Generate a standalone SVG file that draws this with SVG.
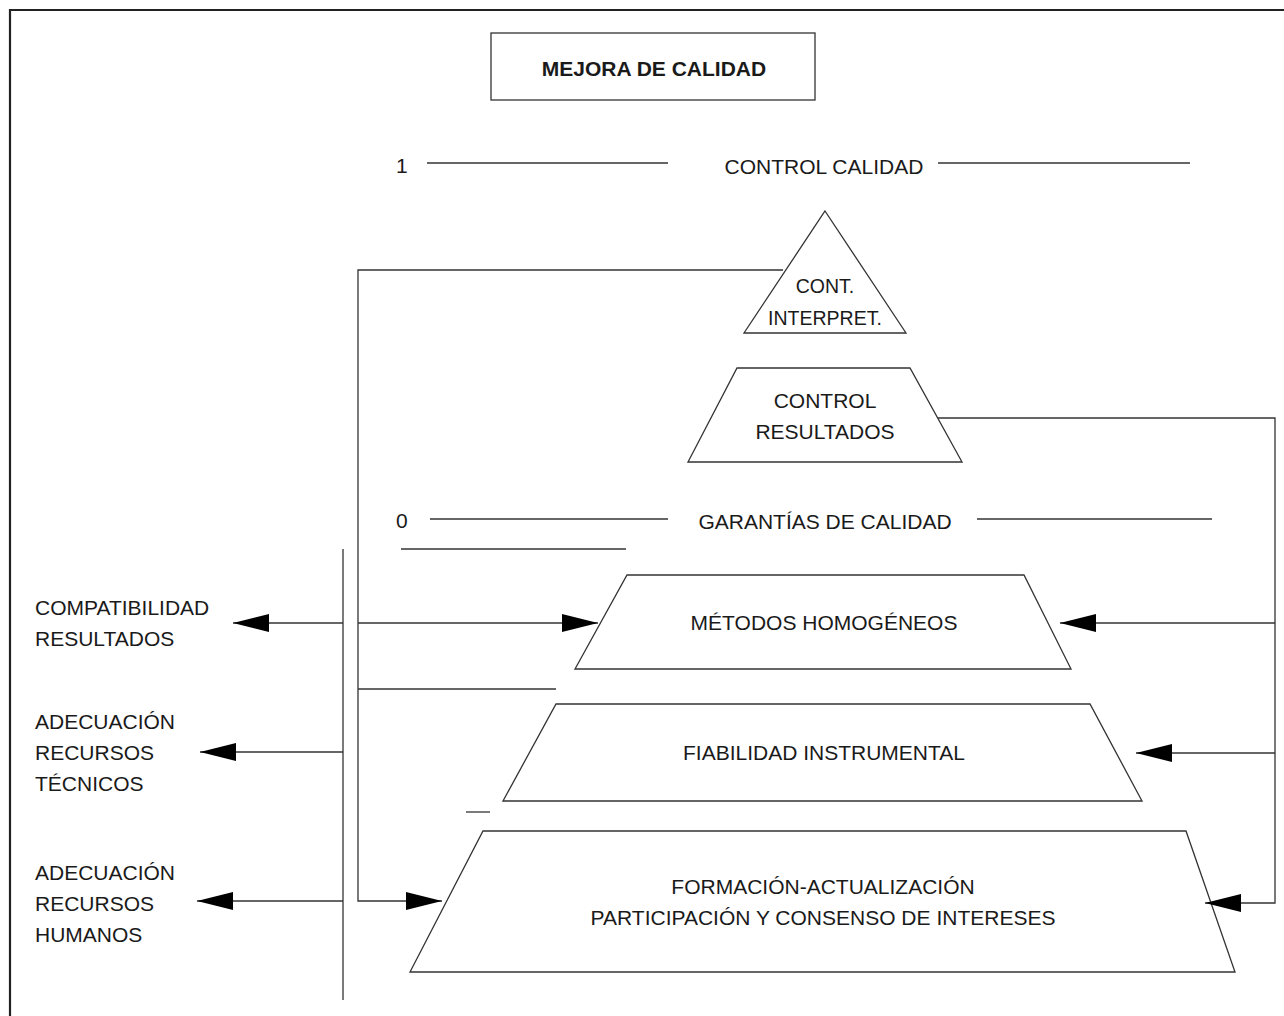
<svg xmlns="http://www.w3.org/2000/svg" width="1284" height="1016" viewBox="0 0 1284 1016">
<style>
text{font-family:"Liberation Sans",Arial,Helvetica,sans-serif;font-size:21px;fill:#1a1a1a}
.c{text-anchor:middle}
.b{font-weight:bold;font-size:21px}
.ln{stroke:#333;stroke-width:1.3;fill:none}
.sh{stroke:#333;stroke-width:1.3;fill:#fff}
.fr{stroke:#222;stroke-width:2.2;fill:none}
</style>
<defs>
<marker id="ah" viewBox="0 0 36 18" refX="36" refY="9" markerWidth="36" markerHeight="18" markerUnits="userSpaceOnUse" orient="auto">
<path d="M0,0 L36,9 L0,18 z" fill="#000"/>
</marker>
</defs>
<rect width="1284" height="1016" fill="#fff"/>
<g id="frame">
<path class="fr" d="M1284,10 H10 V1016"/>
</g>
<g id="title">
<rect class="sh" x="491" y="33" width="324" height="67"/>
<text class="c b" x="654" y="76">MEJORA DE CALIDAD</text>
</g>
<g id="level-1">
<text x="396" y="173">1</text>
<line class="ln" x1="427" y1="163" x2="668" y2="163"/>
<text class="c" x="824" y="174">CONTROL CALIDAD</text>
<line class="ln" x1="938" y1="163" x2="1190" y2="163"/>
</g>
<g id="level-0">
<text x="396" y="528">0</text>
<line class="ln" x1="430" y1="519" x2="668" y2="519"/>
<text class="c" x="825" y="529">GARANTÍAS DE CALIDAD</text>
<line class="ln" x1="977" y1="519" x2="1212" y2="519"/>
</g>
<g id="separators">
<line class="ln" x1="401" y1="549" x2="626" y2="549"/>
<line class="ln" x1="358" y1="689" x2="556" y2="689"/>
<line class="ln" x1="466" y1="812" x2="490" y2="812"/>
</g>
<g id="cont-interpret">
<polygon class="sh" points="825,211 906,333 744,333"/>
<text class="c" x="825" y="293" style="font-size:19.5px">CONT.</text>
<text class="c" x="825" y="325" style="font-size:19.5px">INTERPRET.</text>
</g>
<g id="control-resultados">
<polygon class="sh" points="737,368 910,368 962,462 688,462"/>
<text class="c" x="825" y="408">CONTROL</text>
<text class="c" x="825" y="439">RESULTADOS</text>
</g>
<g id="metodos">
<polygon class="sh" points="627,575 1024,575 1071,669 575,669"/>
<text class="c" x="824" y="630">MÉTODOS HOMOGÉNEOS</text>
</g>
<g id="fiabilidad">
<polygon class="sh" points="556,704 1090,704 1142,801 503,801"/>
<text class="c" x="824" y="760">FIABILIDAD INSTRUMENTAL</text>
</g>
<g id="formacion">
<polygon class="sh" points="483,831 1186,831 1235,972 410,972"/>
<text class="c" x="823" y="894">FORMACIÓN-ACTUALIZACIÓN</text>
<text class="c" x="823" y="925">PARTICIPACIÓN Y CONSENSO DE INTERESES</text>
</g>
<g id="compatibilidad">
<text x="35" y="615">COMPATIBILIDAD</text>
<text x="35" y="646">RESULTADOS</text>
</g>
<g id="recursos-tecnicos">
<text x="35" y="729">ADECUACIÓN</text>
<text x="35" y="760">RECURSOS</text>
<text x="35" y="791">TÉCNICOS</text>
</g>
<g id="recursos-humanos">
<text x="35" y="880">ADECUACIÓN</text>
<text x="35" y="911">RECURSOS</text>
<text x="35" y="942">HUMANOS</text>
</g>
<g id="connectors">
<line class="ln" x1="343" y1="549" x2="343" y2="1000"/>
<line class="ln" x1="343" y1="623" x2="233" y2="623" marker-end="url(#ah)"/>
<line class="ln" x1="343" y1="752" x2="200" y2="752" marker-end="url(#ah)"/>
<line class="ln" x1="343" y1="901" x2="197" y2="901" marker-end="url(#ah)"/>
<path class="ln" d="M783,270 H358 V901 H442" marker-end="url(#ah)"/>
<line class="ln" x1="358" y1="623" x2="598" y2="623" marker-end="url(#ah)"/>
<path class="ln" d="M938,418 H1275 V903 H1205" marker-end="url(#ah)"/>
<line class="ln" x1="1275" y1="623" x2="1060" y2="623" marker-end="url(#ah)"/>
<line class="ln" x1="1275" y1="753" x2="1136" y2="753" marker-end="url(#ah)"/>
</g>
</svg>
